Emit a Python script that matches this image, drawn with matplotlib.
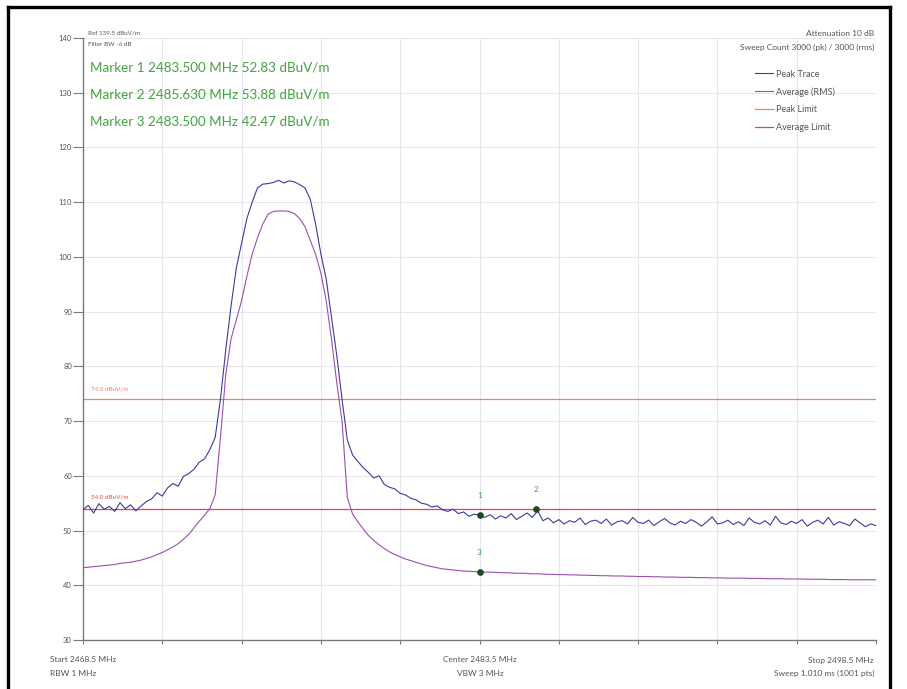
import numpy as np
import matplotlib
matplotlib.use('Agg')
import matplotlib.pyplot as plt
from matplotlib.lines import Line2D

# 字体：Lato 比较窄，接近原图
plt.rcParams['font.family'] = ['Lato', 'DejaVu Sans']

# 扫描点（0.2 MHz 间隔读取）
start_mhz = 2468.5
stop_mhz = 2498.5
freq = np.round(start_mhz + 0.2 * np.arange(151), 1)

# Peak Trace (dBuV/m)
peak = [53.8, 54.6, 53.2, 54.9, 53.9, 54.4, 53.5, 55.1, 54.0, 54.7, 53.6, 54.5, 55.3,
        55.8, 56.9, 56.3, 57.8, 58.6, 58.1, 59.9, 60.4, 61.2, 62.5, 63.1, 64.8,
        67.0, 74.0, 83.0, 91.0, 98.0, 102.5, 107.0, 110.0,
        112.6, 113.3, 113.4, 113.6, 114.0, 113.5, 113.9, 113.7, 113.2, 112.6,
        110.5, 106.0, 100.5, 96.0, 89.0, 82.0, 74.0, 66.5,
        63.8, 62.6, 61.5, 60.6, 59.6, 60.0, 58.4, 57.9, 57.6, 56.8,
        56.5, 55.9, 55.6, 55.0, 54.8, 54.3, 54.5, 53.8, 53.5, 53.9,
        53.1, 53.4, 52.6, 53.0,
        52.8, 52.4, 52.9, 52.1, 52.7, 52.3, 53.1, 52.0, 52.6, 53.2, 52.4, 53.6, 51.8, 52.3,
        51.4, 52.0, 51.2, 51.8, 51.5, 52.3, 51.1, 51.7, 51.9, 51.3,
        52.1, 51.0, 51.6, 51.8, 51.2, 52.4, 51.5, 51.3, 51.9, 50.9,
        51.6, 52.2, 51.4, 51.0, 51.7, 51.3, 52.0, 51.5, 50.8, 51.6,
        52.5, 51.2, 51.4, 51.9, 51.1, 51.6, 50.9, 52.3, 51.5, 51.2,
        51.8, 51.0, 52.6, 51.4, 51.1, 51.7, 51.3, 52.0, 50.8, 51.5,
        51.9, 51.2, 52.4, 51.0, 51.6, 51.3, 50.9, 52.1, 51.4, 50.7,
        51.2, 50.9]

# Average (RMS) (dBuV/m)
average = [43.2, 43.3, 43.4, 43.5, 43.6, 43.7, 43.8, 44.0, 44.1, 44.2,
           44.4, 44.6, 44.9, 45.2, 45.6, 46.0, 46.5, 47.0, 47.6, 48.4,
           49.3, 50.5, 51.7, 52.8, 54.0,
           56.5, 67.0, 78.5, 85.0, 88.5, 92.0, 96.5, 100.5, 103.5, 106.0,
           107.8, 108.3, 108.4, 108.4, 108.3, 107.9, 107.0, 105.5, 103.0, 100.5,
           97.0, 92.0, 85.0, 77.0, 70.0, 56.0,
           53.0, 51.6, 50.3, 49.1, 48.2, 47.4, 46.7, 46.1, 45.6, 45.2,
           44.8, 44.5, 44.2, 43.9, 43.6, 43.4, 43.2, 43.0, 42.9, 42.8,
           42.7, 42.6, 42.55, 42.5, 42.47,
           42.4, 42.4, 42.35, 42.3, 42.3, 42.25, 42.2, 42.2, 42.15, 42.1,
           42.1, 42.05, 42.0, 42.0, 41.95, 41.95, 41.9, 41.9, 41.85, 41.85,
           41.8, 41.8, 41.75, 41.75, 41.7, 41.7, 41.7, 41.65, 41.65, 41.6,
           41.6, 41.6, 41.55, 41.55, 41.5, 41.5, 41.5, 41.45, 41.45, 41.45,
           41.4, 41.4, 41.4, 41.35, 41.35, 41.35, 41.3, 41.3, 41.3, 41.3,
           41.25, 41.25, 41.25, 41.2, 41.2, 41.2, 41.2, 41.15, 41.15, 41.15,
           41.15, 41.1, 41.1, 41.1, 41.1, 41.05, 41.05, 41.05, 41.05, 41.0,
           41.0, 41.0, 41.0, 41.0, 41.0]

assert len(peak) == len(freq) and len(average) == len(freq)

# 限值线
peak_limit = 74.0
avg_limit = 54.0

# Marker
marker_names = ['1', '2', '3']
marker_freq = [2483.5, 2485.63, 2483.5]
marker_level = [52.83, 53.88, 42.47]

W, H = 907, 689


def fx(x):
    return x / W


def fy(y):
    return 1 - y / H


fig = plt.figure(figsize=(W / 100, H / 100), dpi=100)
ax = fig.add_axes([fx(83), fy(640), (876 - 83) / W, (640 - 38) / H])

# 曲线
ax.plot(freq, peak, color='#3c3c9c', lw=0.8, label='Peak Trace', zorder=3)
ax.plot(freq, average, color='#9b4fae', lw=0.8, label='Average (RMS)', zorder=3)
ax.axhline(peak_limit, color='#f2805e', lw=0.9, label='Peak Limit', zorder=2)
ax.axhline(avg_limit, color='#e8424c', lw=0.9, label='Average Limit', zorder=2)

ax.text(start_mhz + 0.3, peak_limit + 1.5, '74.0 dBuV/m', fontsize=4.5, color='#f2805e')
ax.text(start_mhz + 0.3, avg_limit + 1.9, '54.0 dBuV/m', fontsize=4.5, color='#e8424c')

# Marker 点和编号
ax.plot(marker_freq, marker_level, 'o', ms=3.8, color='#1d4a1d', zorder=4)
for name, f, lv in zip(marker_names, marker_freq, marker_level):
    ax.annotate(name, (f, lv), xytext=(0, 14), textcoords='offset points',
                ha='center', va='center', fontsize=6, color='#3aa03a')

# 坐标轴
ax.set_xlim(start_mhz, stop_mhz)
ax.set_ylim(30, 140)
ax.set_xticks(np.arange(start_mhz, stop_mhz + 0.1, 3.0))
ax.set_yticks(np.arange(30, 141, 10))
ax.tick_params(axis='x', length=3, width=0.8, color='#7a7a7a', labelbottom=False)
ax.tick_params(axis='y', length=7, width=0.8, color='#7a7a7a', labelsize=5.5,
               labelcolor='#555555', pad=1)
ax.grid(True, color='#e6e6ec', lw=0.8)
ax.spines['top'].set_visible(False)
ax.spines['right'].set_visible(False)
for s in ['left', 'bottom']:
    ax.spines[s].set_color('#7a7a7a')
    ax.spines[s].set_linewidth(1.0)

# 图例
ax.legend(loc='upper left', bbox_to_anchor=(fx(750), fy(65)), bbox_transform=fig.transFigure,
          frameon=False, fontsize=6.5, handlelength=2.0, handletextpad=0.4,
          labelspacing=0.95, borderpad=0, labelcolor='#555555')

# 顶部、底部文字
small = dict(fontsize=4.5, color='#555555', va='center')
info = dict(fontsize=6, color='#555555', va='center')
fig.text(fx(88), fy(33), 'Ref 139.5 dBuV/m', **small)
fig.text(fx(88), fy(45), 'Filter BW -6 dB', **small)
fig.text(fx(874), fy(33), 'Attenuation 10 dB', ha='right', **info)
fig.text(fx(874), fy(47), 'Sweep Count 3000 (pk) / 3000 (rms)', ha='right', **info)

marker_lines = ['Marker 1 2483.500 MHz 52.83 dBuV/m',
                'Marker 2 2485.630 MHz 53.88 dBuV/m',
                'Marker 3 2483.500 MHz 42.47 dBuV/m']
for k, txt in enumerate(marker_lines):
    fig.text(fx(90), fy(68 + 26.5 * k), txt, fontsize=9.7, color='#43a343', va='center')

fig.text(fx(50), fy(660), 'Start 2468.5 MHz', ha='left', **info)
fig.text(fx(50), fy(673), 'RBW 1 MHz', ha='left', **info)
fig.text(fx(480), fy(660), 'Center 2483.5 MHz', ha='center', **info)
fig.text(fx(480), fy(673), 'VBW 3 MHz', ha='center', **info)
fig.text(fx(874), fy(660), 'Stop 2498.5 MHz', ha='right', **info)
fig.text(fx(874), fy(673), 'Sweep 1.010 ms (1001 pts)', ha='right', **info)

# 外边框（黑色粗线）
for xs, ys in [([8, 8], [7, H + 5]), ([8, 890], [7, 7]), ([890, 890], [7, H + 5])]:
    fig.add_artist(Line2D([fx(v) for v in xs], [fy(v) for v in ys],
                          transform=fig.transFigure, color='black', lw=2.4))

fig.savefig('out.png', dpi=100)
